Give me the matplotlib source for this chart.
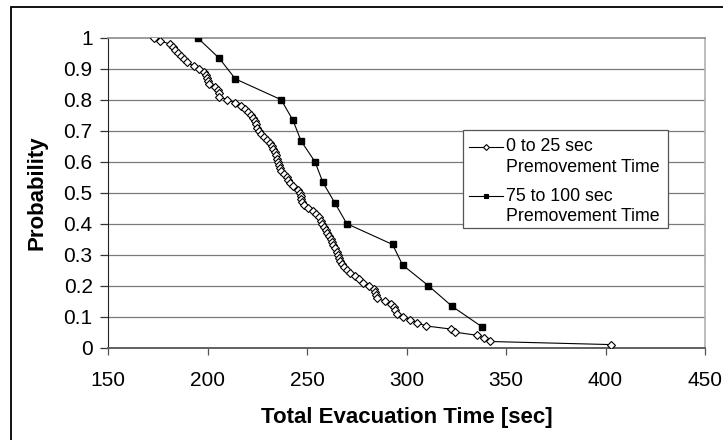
import matplotlib
matplotlib.use("Agg")
import matplotlib.pyplot as plt
from matplotlib.lines import Line2D
from matplotlib.patches import Rectangle
from matplotlib.ticker import FixedLocator, FuncFormatter

plt.rcParams['font.family'] = ['Liberation Sans', 'DejaVu Sans']

# Total evacuation times, 0-25 s premovement (sorted, one run per 1 %)
early_time = [
    173, 176, 181, 182.5, 183.5, 185, 186.5, 188, 189.5, 193,
    195.5, 198, 199, 199.5, 200, 201, 204, 205.5, 206, 206,
    210, 214, 217, 219, 220.5, 222, 223, 224, 224.5, 225,
    226, 227, 228.5, 230, 231.5, 232.5, 233, 234, 234.5, 235,
    235.5, 236, 236.5, 237, 238.5, 240, 240.5, 241.5, 243, 245.5,
    246.5, 246.8, 247, 247.3, 248.5, 250.5, 253, 254.5, 256, 256.8,
    257.5, 258.5, 259.3, 260, 261, 262, 262.7, 263.3, 264, 265,
    265.7, 266, 266.5, 267.5, 268.5, 270, 271.5, 274, 276, 278,
    281, 283.5, 284.2, 284.6, 285.2, 289, 292, 293.5, 294.3, 295.2,
    298, 302, 305.5, 310, 322.5, 324.5, 335.5, 339, 342, 403,
]
early_prob = [round(1.0 - i / 100, 2) for i in range(len(early_time))]

# Total evacuation times, 75-100 s premovement
late_time = [195, 206, 214, 237, 243, 247, 254, 258, 264, 270,
             293, 298, 311, 323, 338]
late_prob = [1.0, 0.933, 0.867, 0.8, 0.733, 0.667, 0.6, 0.533, 0.467,
             0.4, 0.333, 0.267, 0.2, 0.133, 0.067]

series_labels = ["0 to 25 sec\nPremovement Time",
                 "75 to 100 sec\nPremovement Time"]
x_ticks = [150, 200, 250, 300, 350, 400, 450]
y_ticks = [0, 0.1, 0.2, 0.3, 0.4, 0.5, 0.6, 0.7, 0.8, 0.9, 1.0]

W, H = 723, 440
fig = plt.figure(figsize=(W / 100, H / 100), dpi=100)
ax = fig.add_axes([108 / W, 1 - 347.7 / H, 597 / W, 310 / H])

ax.set_xlim(150, 450)
ax.set_ylim(0, 1)

for yv in y_ticks[1:-1]:
    ax.axhline(yv, color='#7a7a7a', lw=0.9, zorder=1)

ax.plot(early_time, early_prob, color='black', lw=0.8, marker='D',
        markersize=4.2, markerfacecolor='white', markeredgecolor='black',
        markeredgewidth=0.8, zorder=3)
ax.plot(late_time, late_prob, color='black', lw=0.8, marker='s',
        markersize=4.6, markerfacecolor='black', markeredgecolor='black',
        zorder=3)

ax.xaxis.set_major_locator(FixedLocator(x_ticks))
ax.yaxis.set_major_locator(FixedLocator(y_ticks))
ax.yaxis.set_major_formatter(FuncFormatter(lambda v, p: f"{v:g}"))
ax.tick_params(axis='x', direction='out', length=5, width=0.9,
               color='#555555', pad=12, labelsize=15)
ax.tick_params(axis='y', direction='out', length=6, width=0.9,
               color='#333333', pad=5, labelsize=15)

ax.spines['left'].set_color('#222222')
ax.spines['bottom'].set_color('#606060')
ax.spines['bottom'].set_linewidth(1.4)
ax.spines['top'].set_color('#8a8a8a')
ax.spines['right'].set_color('#b0b0b0')
for s in ('top', 'right'):
    ax.spines[s].set_linewidth(1.2)

ax.set_xlabel("Total Evacuation Time [sec]", fontsize=16, fontweight='bold',
              va='center')
ax.xaxis.set_label_coords(0.5, (347.7 - 417) / 310)
ax.set_ylabel("Probability", fontsize=16, fontweight='bold', va='center')
ax.yaxis.set_label_coords((37 - 108) / 597, 0.5)

# Legend box
def fx(px):
    return px / W

def fy(py):
    return 1 - py / H

fig.patches.append(Rectangle((fx(463), fy(228)), 205 / W, 98 / H,
                             transform=fig.transFigure, facecolor='white',
                             edgecolor='#555555', lw=0.9, zorder=5))
legend_rows = [
    (146.7, 'D', 'white', 3.0),
    (196.0, 's', 'black', 3.2),
]
for (yrow, mk, fc, ms), label in zip(legend_rows, series_labels):
    fig.lines.append(Line2D([fx(469), fx(503)], [fy(yrow), fy(yrow)],
                            transform=fig.transFigure, color='black', lw=0.8,
                            zorder=6))
    fig.lines.append(Line2D([fx(486)], [fy(yrow)], transform=fig.transFigure,
                            marker=mk, markersize=ms, markerfacecolor=fc,
                            markeredgecolor='black', markeredgewidth=0.8,
                            linestyle='none', zorder=7))
    first, second = label.split("\n")
    fig.text(fx(506), fy(yrow), first, fontsize=12.8, va='center',
             ha='left', zorder=7)
    fig.text(fx(506), fy(yrow + 20.7), second, fontsize=12.8, va='center',
             ha='left', zorder=7)

# Chart frame
fig.patches.append(Rectangle((fx(11), -0.5), 2.0, fy(7) + 0.5,
                             transform=fig.transFigure, facecolor='none',
                             edgecolor='black', lw=1.3, zorder=0))

fig.savefig("out.png", dpi=100)
